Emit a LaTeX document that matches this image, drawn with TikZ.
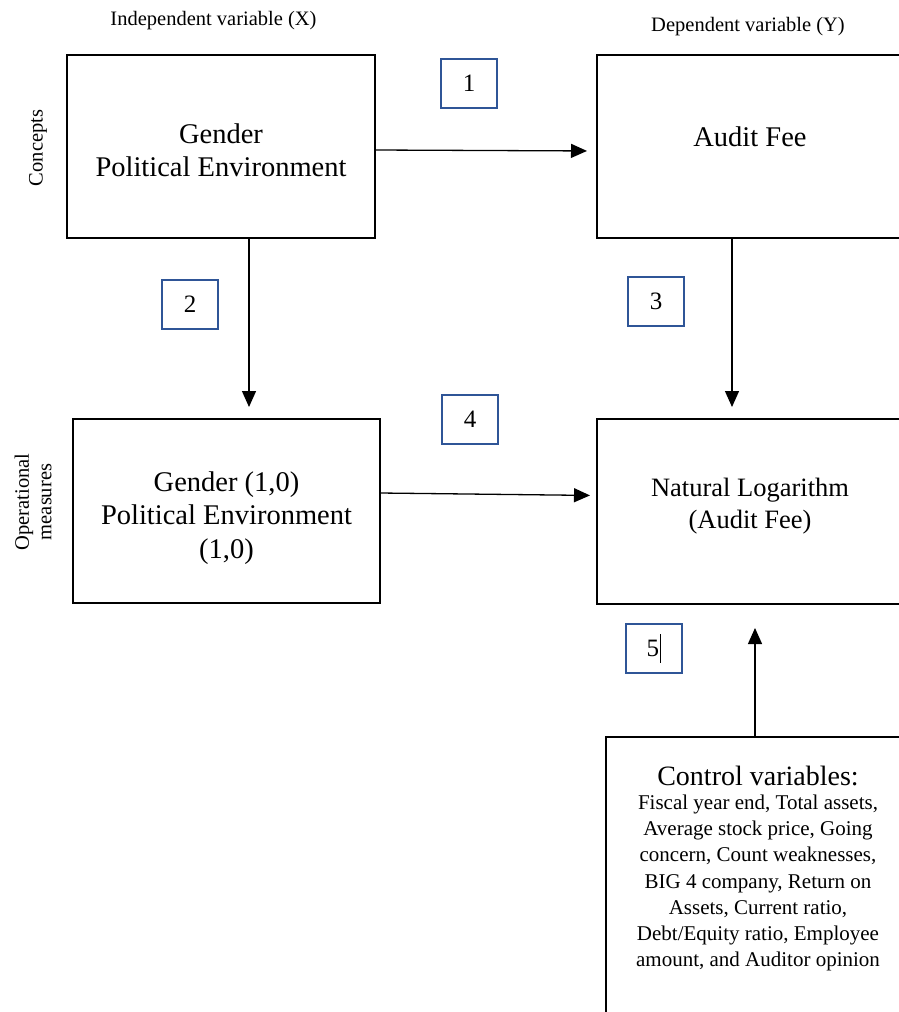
\documentclass[tikz,border=0pt]{standalone}
\usepackage{fontspec}
\setmainfont{Liberation Serif}
\usetikzlibrary{arrows.meta}
\definecolor{numblue}{HTML}{2F5597}
\begin{document}
\begin{tikzpicture}[x=1pt,y=-1pt,
  bigbox/.style={draw, line width=2.6pt, inner sep=0pt, outer sep=0pt},
  numbox/.style={draw=numblue, line width=2pt, minimum width=56pt, minimum height=49pt, inner sep=0pt,
    font=\fontsize{25}{30}\selectfont},
  arr/.style={line width=1.3pt, -{Triangle[length=16pt,width=14pt]}},
  bigtext/.style={align=center, inner sep=0pt, font=\fontsize{28.5}{32.5}\selectfont},
  small/.style={inner sep=0pt, font=\fontsize{20.5}{23}\selectfont}]
\useasboundingbox (0,0) rectangle (898,1012);
% big boxes
\node[bigbox, minimum width=308pt, minimum height=183pt] (A) at (221,146.5) {};
\node[bigbox, minimum width=308pt, minimum height=183pt] (B) at (751,146.5) {};
\node[bigbox, minimum width=307pt, minimum height=184pt] (C) at (226.5,511) {};
\node[bigbox, minimum width=308pt, minimum height=185pt] (D) at (751,511.5) {};
\node[bigbox, minimum width=306pt, minimum height=293pt] (E) at (759,883.5) {};
% box texts
\node[bigtext] (tA) at (221,150) {Gender\\Political Environment};
\node[bigtext] (tB) at (750,137) {Audit Fee};
\node[bigtext, font=\fontsize{28.5}{33.5}\selectfont] (tC) at (226.5,518) {Gender (1,0)\\Political Environment\\(1,0)};
\node[bigtext, font=\fontsize{26.5}{32.5}\selectfont] (tD) at (750,506) {Natural Logarithm\\(Audit Fee)};
\node[bigtext, font=\fontsize{28}{32}\selectfont] (tE1) at (758,776) {Control variables:};
\node[align=center, inner sep=0pt, font=\fontsize{21}{26.2}\selectfont] (tE2) at (758,883)
  {Fiscal year end, Total assets,\\Average stock price, Going\\concern, Count weaknesses,\\BIG 4 company, Return on\\Assets, Current ratio,\\Debt/Equity ratio, Employee\\amount, and Auditor opinion};
% side and top labels
\node[small] (lx) at (213.5,21) {Independent variable (X)};
\node[small] (ly) at (748,27) {Dependent variable (Y)};
\node[small, rotate=90] (lc) at (38,148) {Concepts};
\node[small, rotate=90, align=center, font=\fontsize{20.5}{22.5}\selectfont] (lo) at (33,502) {Operational\\measures};
% number boxes
\node[numbox] (n1) at (469,83) {1};
\node[numbox] (n2) at (190,304) {2};
\node[numbox] (n3) at (656,301) {3};
\node[numbox] (n4) at (470,419.5) {4};
\node[numbox] (n5) at (653.5,648) {5\kern0.5pt\rule[-6pt]{1pt}{29pt}};
% arrows
\draw[arr, shorten >=10pt] ([yshift=-3.5pt]A.east) -- ([yshift=-4.5pt]B.west);
\draw[arr, shorten >=12pt] ([xshift=28pt]A.south) -- ([xshift=28pt]A.south |- C.north);
\draw[arr, shorten >=12pt] ([xshift=-19pt]B.south) -- ([xshift=-19pt]B.south |- D.north);
\draw[arr, shorten >=7pt] ([yshift=18pt]C.east) -- ([yshift=16pt]D.west);
\draw[arr, shorten >=24pt] ([xshift=-4pt]E.north) -- ([xshift=-4pt]E.north |- D.south);
\end{tikzpicture}
\end{document}
